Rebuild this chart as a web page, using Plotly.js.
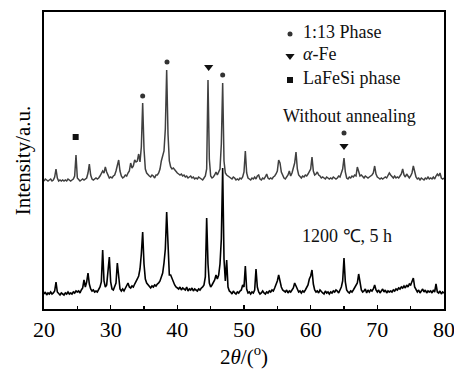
<!DOCTYPE html>
<html>
<head>
<meta charset="utf-8">
<script src="https://cdn.plot.ly/plotly-3.0.1.min.js"></script>
<style>html,body{margin:0;padding:0;background:#fff;}#chart{width:454px;height:369px;}</style>
</head>
<body>
<div id="chart"></div>
<script>
// Scan: 2θ from 20° to 80°, step 0.2°
const scanStart = 20;
const scanStep = 0.2;

// Without annealing (offset pattern, arbitrary units)
const withoutAnnealing = [
128,130,129,128,129, 130,128,129,132,140, 131,128,129,128,129, 128,129,128,130,129,
128,129,130,133,154, 131,129,128,129,130, 129,130,131,136,145, 134,130,129,130,131,
130,131,133,135,138, 136,142,137,133,131, 132,131,133,134,138, 144,149,138,133,131,
132,134,133,136,138, 146,141,143,149,147, 148,155,147,162,206, 160,140,136,134,133,
132,134,133,131,134, 134,136,140,148,154, 158,180,239,175,148, 142,140,141,139,138,
136,135,134,135,133, 134,132,133,131,132, 133,131,132,130,131, 130,132,131,130,129,
131,133,140,229,150, 133,131,132,134,137, 134,137,140,165,226, 148,136,134,133,132,
131,130,132,131,129, 130,129,131,130,132, 137,158,136,131,130, 129,131,130,132,130,
133,134,130,129,131, 130,132,135,131,130, 131,130,132,133,135, 138,149,146,137,134,
131,130,132,134,138, 133,136,140,146,157, 140,134,132,131,133, 132,134,133,135,137,
140,152,138,134,135, 137,134,133,131,132, 131,130,132,131,130, 131,130,132,131,130,
131,133,132,136,140, 151,137,131,130,132, 131,133,132,134,133, 142,136,133,134,132,
131,133,132,131,132, 133,134,136,143,135, 132,131,130,131,130, 131,132,131,133,136,
134,132,131,133,131, 132,131,133,135,140, 134,132,135,133,131, 133,136,143,136,132,
130,131,129,131,130, 129,131,130,132,130, 131,130,132,130,133, 135,133,136,131,130,
131
];

// 1200 ℃, 5 h
const annealed = [
15,17,14,16,15, 17,15,16,18,27, 17,15,14,16,15, 14,16,15,17,15,
16,15,17,16,18, 17,18,16,19,21, 29,22,27,36,25, 20,18,19,17,18,
17,19,22,27,59, 28,22,24,35,52, 27,20,19,22,26, 46,30,20,18,20,
18,21,24,26,22, 21,23,22,25,27, 30,33,40,55,77, 45,30,26,24,22,
21,23,22,24,23, 25,26,28,32,36, 46,60,97,58,34, 34,30,27,24,22,
21,20,22,19,21, 20,19,22,18,20, 19,21,18,20,19, 18,20,19,21,22,
24,32,91,45,26, 22,24,26,29,34, 30,34,45,70,141, 50,28,49,22,18,
17,15,18,16,15, 17,16,18,19,24, 22,43,20,16,17, 15,17,16,19,40,
22,17,15,16,18, 16,15,17,16,18, 17,19,18,21,24, 28,34,26,22,19,
18,17,19,16,18, 17,19,21,26,23, 19,17,18,16,18, 17,19,21,24,30,
33,39,25,19,17, 18,16,19,17,16, 15,18,16,17,15, 17,16,18,17,19,
18,16,19,22,28, 51,27,19,17,16, 18,17,19,21,24, 26,35,25,19,17,
18,20,16,19,17, 19,18,20,24,19, 17,19,16,18,20, 17,19,16,18,17,
18,17,19,18,20, 19,21,20,22,21, 23,21,24,22,25, 24,27,31,22,19,
17,19,16,18,20, 17,19,16,18,17, 18,16,19,17,25, 17,16,18,15,17,
16
];

// Phase markers above peaks of the un-annealed pattern
const phase113X = [34.8, 38.45, 46.8, 65.0];
const phase113Y = [213, 247, 234, 176];
const alphaFeX = [44.7, 65.0];
const alphaFeY = [242, 163];
const laFeSiX = [24.75];
const laFeSiY = [172];

// Legend keys
const legendLabels = ["1:13 Phase", "<i>α</i>-Fe", "LaFeSi phase"];
const legendSymX = 56.9;
const legendSymY = [275, 253, 229];
const legendTextX = 58.6;
const legendTextY = [277, 255, 231];

const sampleLabels = ["Without annealing", "1200 ℃, 5 h"];
const sampleLabelX = [65.8, 65.45];
const sampleLabelY = [193, 73];

const FONT = "'Liberation Serif', 'Times New Roman', serif";
const mkColor = "#333333";

const traces = [
  {type:'scatter', mode:'lines', x0:scanStart, dx:scanStep, y:withoutAnnealing,
   line:{color:'#404040', width:1.5}, hoverinfo:'skip'},
  {type:'scatter', mode:'lines', x0:scanStart, dx:scanStep, y:annealed,
   line:{color:'#000000', width:1.6}, hoverinfo:'skip'},
  {type:'scatter', mode:'markers', x:phase113X, y:phase113Y,
   marker:{symbol:'circle', size:5, color:mkColor}},
  {type:'scatter', mode:'markers', x:alphaFeX, y:alphaFeY,
   marker:{symbol:'triangle-down', size:8, color:'#111'}},
  {type:'scatter', mode:'markers', x:laFeSiX, y:laFeSiY,
   marker:{symbol:'square', size:6, color:'#111'}},
  {type:'scatter', mode:'markers', x:[legendSymX], y:[legendSymY[0]],
   marker:{symbol:'circle', size:5, color:mkColor}},
  {type:'scatter', mode:'markers', x:[legendSymX], y:[legendSymY[1]],
   marker:{symbol:'triangle-down', size:8, color:'#111'}},
  {type:'scatter', mode:'markers', x:[legendSymX], y:[legendSymY[2]],
   marker:{symbol:'square', size:6, color:'#111'}}
];

const annotations = [];
legendLabels.forEach((t,i)=>annotations.push({x:legendTextX, y:legendTextY[i], xref:'x', yref:'y',
  text:t, showarrow:false, xanchor:'left', yanchor:'middle', font:{family:FONT, size:18, color:'#111'}}));
sampleLabels.forEach((t,i)=>annotations.push({x:sampleLabelX[i], y:sampleLabelY[i], xref:'x', yref:'y',
  text:t, showarrow:false, xanchor:'center', yanchor:'middle', font:{family:FONT, size:18, color:'#111'}}));

const layout = {
  width:454, height:369,
  margin:{l:44, r:10, t:12, b:60},
  paper_bgcolor:'#fff', plot_bgcolor:'#fff',
  showlegend:false,
  font:{family:FONT, color:'#000'},
  xaxis:{
    range:[20,80], tickmode:'array', tickvals:[20,30,40,50,60,70,80],
    ticks:'inside', ticklen:4, tickwidth:1.2, tickcolor:'#000',
    minor:{tickmode:'array', tickvals:[25,35,45,55,65,75], ticks:'inside', ticklen:3, tickwidth:1.2, tickcolor:'#000'},
    showline:true, linecolor:'#000', linewidth:1.6, mirror:true,
    showgrid:false, zeroline:false, automargin:false,
    ticklabeloverflow:'allow',
    tickfont:{family:FONT, size:22, color:'#000'},
    title:{text:'2<i>θ</i>/(<sup>o</sup>)', font:{family:FONT, size:21, color:'#000'}, standoff:10}
  },
  yaxis:{
    range:[0,297], showticklabels:false, ticks:'',
    showline:true, linecolor:'#000', linewidth:1.6, mirror:true,
    showgrid:false, zeroline:false,
    title:{text:'Intensity/a.u.', font:{family:FONT, size:21, color:'#000'}, standoff:6}
  },
  annotations:annotations
};

Plotly.newPlot('chart', traces, layout, {staticPlot:true, displayModeBar:false});
</script>
</body>
</html>
